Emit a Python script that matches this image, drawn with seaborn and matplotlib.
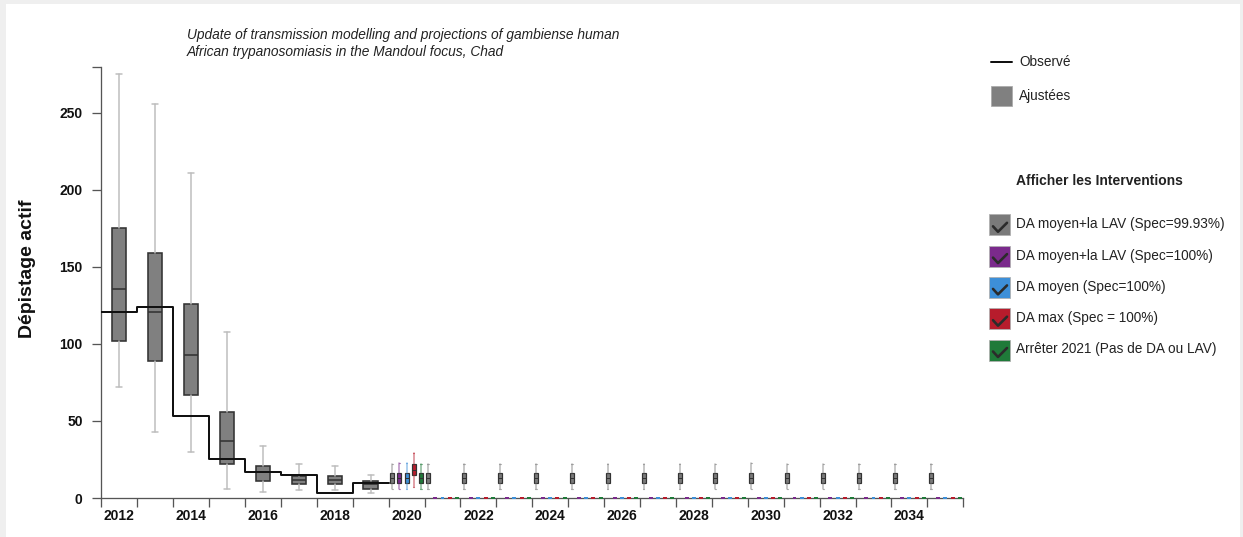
import numpy as np
import pandas as pd
import matplotlib
matplotlib.use("Agg")
import matplotlib.pyplot as plt
from matplotlib.patches import Rectangle
from matplotlib.lines import Line2D
import seaborn as sns

# ---- data -------------------------------------------------------------
obs_years = [2012, 2013, 2014, 2015, 2016, 2017, 2018, 2019]
observed = [121, 124, 53, 25, 17, 15, 3, 10]

fit_years = [2012, 2013, 2014, 2015, 2016, 2017, 2018, 2019]
fit_low = [72, 43, 30, 6, 4, 5, 5, 3]
fit_q1 = [102, 89, 67, 22, 11, 9, 9, 6]
fit_med = [136, 121, 93, 37, 17, 12, 12, 9]
fit_q3 = [175, 159, 126, 56, 21, 14.5, 14.5, 11]
fit_high = [275, 256, 211, 108, 34, 22, 21, 15]

proj_years = list(range(2020, 2036))

interventions = [
    "DA moyen+la LAV (Spec=99.93%)",
    "DA moyen+la LAV (Spec=100%)",
    "DA moyen (Spec=100%)",
    "DA max (Spec = 100%)",
    "Arrêter 2021 (Pas de DA ou LAV)",
]
intervention_colors = ["#7a7a7a", "#7b2a8c", "#3d8fd8", "#b71c2c", "#1f7a39"]

# projected stats per intervention, one value per year 2020..2035
proj_low = [
    [5.6] * 16,
    [5.6] + [0] * 15,
    [5.6] + [0] * 15,
    [7.3] + [0] * 15,
    [5.6] + [0] * 15,
]
proj_q1 = [
    [9.5] * 16,
    [9.5] + [0] * 15,
    [9.5] + [0] * 15,
    [15] + [0] * 15,
    [9.5] + [0] * 15,
]
proj_med = [
    [13] * 16,
    [13] + [0] * 15,
    [13] + [0] * 15,
    [18.5] + [0] * 15,
    [13] + [0] * 15,
]
proj_q3 = [
    [16] * 16,
    [16] + [0] * 15,
    [16] + [0] * 15,
    [22] + [0] * 15,
    [16] + [0] * 15,
]
proj_high = [
    [22, 22, 22, 22, 22, 22, 22, 22, 22, 22, 23, 22, 22, 22, 22, 22],
    [23] + [0] * 15,
    [23] + [0] * 15,
    [29] + [0] * 15,
    [22] + [0] * 15,
]

y_ticks = [0, 50, 100, 150, 200, 250]
x_label_years = list(range(2012, 2036, 2))

# ---- figure -------------------------------------------------------------
sns.set_style("white")
plt.rcParams["font.family"] = ["Liberation Sans", "DejaVu Sans"]

W, H = 1243, 537
fig = plt.figure(figsize=(W / 100, H / 100), dpi=100, facecolor="#efefef")

# pixel-space canvas for the panel, title and side legend
bg = fig.add_axes([0, 0, 1, 1], zorder=-5)
bg.set_xlim(0, W)
bg.set_ylim(H, 0)
bg.axis("off")
bg.add_patch(Rectangle((6, 4), W - 6 - 3, H - 4, facecolor="white", edgecolor="none"))

ax = fig.add_axes([101.3 / W, (H - 498) / H, (963.3 - 101.3) / W, (498 - 66.7) / H])
ax.set_facecolor("none")

dark = "#333333"
px = 0.72  # points per pixel at 100 dpi


def stats(lo, q1, med, q3, hi):
    return dict(whislo=lo, q1=q1, med=med, q3=q3, whishi=hi, fliers=[])


# fitted boxes
fit_stats = [stats(*v) for v in zip(fit_low, fit_q1, fit_med, fit_q3, fit_high)]
ax.bxp(
    fit_stats,
    positions=[y + 0.5 for y in fit_years],
    widths=0.4,
    capwidths=0.17,
    patch_artist=True,
    showfliers=False,
    boxprops=dict(facecolor="#808080", edgecolor=dark, linewidth=1.6 * px),
    medianprops=dict(color=dark, linewidth=1.6 * px),
    whiskerprops=dict(color="#bdbdbd", linewidth=1.5 * px),
    capprops=dict(color="#bdbdbd", linewidth=1.5 * px),
    zorder=2,
)

# projected boxes, five interventions side by side in each year
for i, (name, col) in enumerate(zip(interventions, intervention_colors)):
    st = [stats(*v) for v in zip(proj_low[i], proj_q1[i], proj_med[i], proj_q3[i], proj_high[i])]
    art = ax.bxp(
        st,
        positions=[y + 0.1 + 0.2 * i for y in proj_years],
        widths=0.11,
        capwidths=0.04,
        patch_artist=True,
        showfliers=False,
        boxprops=dict(facecolor=col, edgecolor=dark, linewidth=1.2 * px),
        medianprops=dict(color=dark, linewidth=1.0 * px),
        whiskerprops=dict(color=col, alpha=0.55, linewidth=1.5 * px),
        capprops=dict(color=col, alpha=0.55, linewidth=1.2 * px),
        zorder=3,
    )
    for k, s in enumerate(st):
        if s["q3"] == 0:
            # a collapsed box shows as a short coloured dash on the baseline
            for a in (art["boxes"][k], art["medians"][k]):
                a.set_clip_on(False)
                a.set_zorder(6)
            art["boxes"][k].set_edgecolor(col)
            art["boxes"][k].set_linewidth(2 * px)
            art["medians"][k].set_color(col)
            art["medians"][k].set_linewidth(2 * px)

# observed series as a step line over each year
df_obs = pd.DataFrame({
    "annee": obs_years + [obs_years[-1] + 1],
    "cas": observed + [observed[-1]],
})
sns.lineplot(data=df_obs, x="annee", y="cas", drawstyle="steps-post",
             color="#111111", linewidth=2 * px, ax=ax, zorder=4)

# ---- axes styling ---------------------------------------------------------
ax.set_xlim(2012, 2036)
ax.set_ylim(0, 280)
for s in ["top", "right"]:
    ax.spines[s].set_visible(False)
for s in ["left", "bottom"]:
    ax.spines[s].set_color("#555555")
    ax.spines[s].set_linewidth(1.3 * px)
    ax.spines[s].set_zorder(2.5)

ax.set_xticks(range(2012, 2037))
ax.set_xticklabels([])
ax.set_xticks([y + 0.5 for y in x_label_years], minor=True)
ax.set_xticklabels([str(y) for y in x_label_years], minor=True,
                   fontsize=10, fontweight="bold", color="#111111")
ax.tick_params(axis="x", which="major", bottom=True, direction="out",
               length=9 * px, width=1.3 * px, color="#555555")
ax.tick_params(axis="x", which="minor", bottom=True, length=0, pad=8)

ax.set_yticks(y_ticks + [280])
ax.set_yticklabels([str(v) for v in y_ticks] + [""],
                   fontsize=10, fontweight="bold", color="#111111")
ax.tick_params(axis="y", left=True, direction="out", length=9 * px,
               width=1.3 * px, color="#555555", pad=7)
ax.set_xlabel("")
ax.set_ylabel("")
ax.grid(False)

# ---- texts ------------------------------------------------------------------
bg.text(28, 269, "Dépistage actif", rotation=90, ha="center", va="center",
        fontsize=14, fontweight="bold", color="#111111")
bg.text(187, 35, "Update of transmission modelling and projections of gambiense human",
        ha="left", va="center", fontsize=9.9, fontstyle="italic", color="#222222")
bg.text(187, 52, "African trypanosomiasis in the Mandoul focus, Chad",
        ha="left", va="center", fontsize=9.9, fontstyle="italic", color="#222222")

# ---- side legend ------------------------------------------------------------
bg.add_line(Line2D([991, 1012], [61.7, 61.7], color="#111111", linewidth=2 * px))
bg.text(1019, 61.7, "Observé", ha="left", va="center", fontsize=9.8, color="#222222")
bg.add_patch(Rectangle((991, 85.7), 20.7, 20.3, facecolor="#808080",
                       edgecolor="#aaaaaa", linewidth=0.8 * px))
bg.text(1019, 96, "Ajustées", ha="left", va="center", fontsize=9.8, color="#222222")

bg.text(1016, 181, "Afficher les Interventions", ha="left", va="center",
        fontsize=10, fontweight="bold", color="#222222")

for i, (name, col) in enumerate(zip(interventions, intervention_colors)):
    y0 = 214.3 + 31.3 * i
    bg.add_patch(Rectangle((989.5, y0), 21, 21, facecolor=col,
                           edgecolor="#b0b0b0", linewidth=0.8 * px))
    bg.add_line(Line2D([989.5 + 3.5, 989.5 + 8.5, 989.5 + 17.5],
                       [y0 + 12, y0 + 17.5, y0 + 8.5],
                       color="#2b2b2b", linewidth=2.6 * px,
                       solid_capstyle="round", solid_joinstyle="round"))
    bg.text(1015.7, y0 + 10, name, ha="left", va="center", fontsize=9.8,
            color="#222222")

fig.savefig("out.png", dpi=100, facecolor=fig.get_facecolor())
